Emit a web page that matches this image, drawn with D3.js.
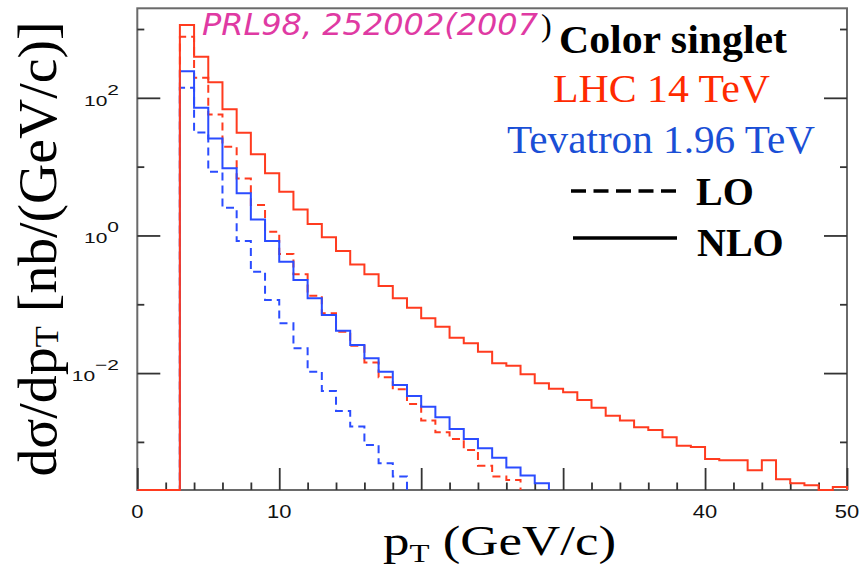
<!DOCTYPE html>
<html><head><meta charset="utf-8">
<script src="https://cdn.jsdelivr.net/npm/d3@7"></script>
<style>body{margin:0;background:#fff}</style>
</head><body>
<svg id="c" width="860" height="569"></svg>
<script>
// ---- data (bin i spans binEdges[i]..binEdges[i+1], pT in GeV/c; values in nb/(GeV/c)) ----
const binEdges = [0,1,2,3,4,5,6,7,8,9,10,11,12,13,14,15,16,17,18,19,20,21,22,23,24,25,26,27,28,29,30,31,32,33,34,35,36,37,38,39,40,41,42,43,44,45,46,47,48,49,50];
const lhcNLO = [0,0,0,1140,394,168,68.5,31,15.2,8.0,4.3,2.39,1.47,0.94,0.593,0.38,0.272,0.184,0.122,0.089,0.0625,0.0472,0.0327,0.0271,0.0205,0.0139,0.0128,0.0096,0.0071,0.0059,0.00526,0.00406,0.00314,0.0024,0.00204,0.00163,0.00149,0.00117,0.00088,0.00084,0.000565,0.00054,0.00054,0.000387,0.00054,0.000286,0.00025,0.000234,0,0.000221];
const lhcLO = [0,0,0,769,195,57.4,19.4,6.75,2.77,1.13,0.537,0.272,0.133,0.0738,0.0399,0.025,0.0142,0.0087,0.00582,0.00356,0.00204,0.00138,0.0011,0.000764,0.000452,0.000313,0.00028];
const tevNLO = [0,0,0,244,71.7,25.7,9.44,4.09,1.71,0.83,0.415,0.225,0.122,0.0698,0.0413,0.0256,0.0164,0.0105,0.00671,0.00465,0.00325,0.00228,0.00154,0.0011,0.00081,0.00059,0.000423,0.000324,0.00025];
const tevLO = [0,0,0,140,31.4,8.4,2.52,0.83,0.297,0.115,0.0528,0.0229,0.0105,0.0055,0.00281,0.00167,0.000904,0.00049,0.000313];
const xMajorTicks = [0,10,20,30,40,50];
const xMinorTicks = [2,4,6,8,12,14,16,18,22,24,26,28,32,34,36,38,42,44,46,48];
const xTickLabels = [0,10,40,50];
const yMajorTicks = [1e2,1e0,1e-2];
const yMinorTicks = [1e3,1e1,1e-1,1e-3];
const yTickExponents = ["2","0","\u22122"];
const legendLines = ["Color singlet","LHC 14 TeV","Tevatron 1.96 TeV","LO","NLO"];

// ---- layout ----
const svg = d3.select("#c");
const L = 137.3, R = 847, T = 8.3, B = 490;
const x = d3.scaleLinear().domain([0,50]).range([L,R]);
const y = d3.scaleLog().domain([2e-4,2e3]).range([B,T]).clamp(true);
const RED = "#ff3b1f", BLUE = "#2b4cff";

// frame
svg.append("rect").attr("x",L).attr("y",T).attr("width",R-L).attr("height",B-T)
  .attr("fill","none").attr("stroke","#6a6a6a").attr("stroke-width",2);

function styleAxis(g){
  g.select(".domain").remove();
  g.selectAll(".tick line").attr("stroke","#333").attr("stroke-width",1.8);
  g.selectAll(".tick text").remove();
}
svg.append("g").attr("transform",`translate(0,${B})`).call(d3.axisBottom(x).tickValues(xMajorTicks).tickSize(-22)).call(styleAxis);
svg.append("g").attr("transform",`translate(0,${B})`).call(d3.axisBottom(x).tickValues(xMinorTicks).tickSize(-7.5)).call(styleAxis);
svg.append("g").attr("transform",`translate(${L},0)`).call(d3.axisLeft(y).tickValues(yMajorTicks).tickSize(-23)).call(styleAxis);
svg.append("g").attr("transform",`translate(${L},0)`).call(d3.axisLeft(y).tickValues(yMinorTicks).tickSize(-7)).call(styleAxis);
svg.append("g").attr("transform",`translate(${R},0)`).call(d3.axisRight(y).tickValues(yMajorTicks).tickSize(-23)).call(styleAxis);
svg.append("g").attr("transform",`translate(${R},0)`).call(d3.axisRight(y).tickValues(yMinorTicks).tickSize(-7)).call(styleAxis);

// x tick labels
xTickLabels.forEach(v=>{
  svg.append("g").attr("transform",`translate(${x(v)},518) scale(1.22,1)`)
    .append("text").attr("text-anchor","middle")
    .attr("font-family","Liberation Sans, Arial, sans-serif").attr("font-size",18).attr("fill","#111").text(v);
});
// y tick labels
yMajorTicks.forEach((v,i)=>{
  const t = svg.append("g").attr("transform",`translate(119,${y(v)+8}) scale(1.4,1)`)
    .append("text").attr("text-anchor","end")
    .attr("font-family","Liberation Sans, Arial, sans-serif").attr("font-size",15).attr("fill","#111");
  t.append("tspan").text("10");
  t.append("tspan").attr("dy",-11).text(yTickExponents[i]);
});

// histograms
const line = d3.line().curve(d3.curveStepAfter)
  .x(d=>x(d[0])).y(d=>y(Math.max(d[1],2e-4)));
function hist(vals,color,dash){
  const pts = vals.map((v,i)=>[binEdges[i],v]);
  pts.push([binEdges[vals.length],0]);
  svg.append("path").attr("d",line(pts)).attr("fill","none")
    .attr("stroke",color).attr("stroke-width",2)
    .attr("stroke-dasharray",dash?"8,5":null);
}
hist(tevLO,BLUE,true);
hist(lhcLO,RED,true);
hist(tevNLO,BLUE,false);
hist(lhcNLO,RED,false);

// annotation
svg.append("text").attr("x",202).attr("y",35)
  .attr("font-family","DejaVu Sans, sans-serif").attr("font-style","italic").attr("font-size",30)
  .attr("fill","#df3aa3").attr("textLength",336).attr("lengthAdjust","spacingAndGlyphs")
  .text("PRL98, 252002(2007");
svg.append("text").attr("x",541).attr("y",36)
  .attr("font-family","Liberation Serif, serif").attr("font-size",32).attr("fill","#000").text(")");

// legend
const serif = "Liberation Serif, Times New Roman, serif";
svg.append("text").attr("x",559).attr("y",53).attr("font-family",serif).attr("font-weight","bold")
  .attr("font-size",40).attr("fill","#000").attr("textLength",228).attr("lengthAdjust","spacingAndGlyphs").text(legendLines[0]);
svg.append("text").attr("x",553).attr("y",102).attr("font-family",serif)
  .attr("font-size",40).attr("fill","#ff2a00").attr("textLength",217).attr("lengthAdjust","spacingAndGlyphs").text(legendLines[1]);
svg.append("text").attr("x",507).attr("y",153).attr("font-family",serif)
  .attr("font-size",40).attr("fill","#1a4fd6").attr("textLength",308).attr("lengthAdjust","spacingAndGlyphs").text(legendLines[2]);
svg.append("line").attr("x1",571).attr("x2",676).attr("y1",191).attr("y2",191)
  .attr("stroke","#000").attr("stroke-width",3.5).attr("stroke-dasharray","15,7.5");
svg.append("text").attr("x",696).attr("y",205).attr("font-family",serif).attr("font-weight","bold")
  .attr("font-size",40).attr("fill","#000").text(legendLines[3]);
svg.append("line").attr("x1",573).attr("x2",677).attr("y1",238).attr("y2",238)
  .attr("stroke","#000").attr("stroke-width",3.5);
svg.append("text").attr("x",697).attr("y",256).attr("font-family",serif).attr("font-weight","bold")
  .attr("font-size",40).attr("fill","#000").text(legendLines[4]);

// axis titles
const xl = svg.append("g").attr("transform","translate(383,555) scale(1.26,1)")
  .append("text").attr("font-family",serif).attr("font-size",42).attr("fill","#000");
xl.append("tspan").text("p");
xl.append("tspan").attr("font-size",26).attr("dy",7).text("T");
xl.append("tspan").attr("dy",-7).text(" (GeV/c)");

const yl = svg.append("text").attr("transform","translate(56,249) rotate(-90)")
  .attr("text-anchor","middle").attr("font-family",serif).attr("font-size",54).attr("fill","#000")
  .attr("textLength",455).attr("lengthAdjust","spacingAndGlyphs");
yl.append("tspan").text("d\u03c3/dp");
yl.append("tspan").attr("font-size",34).attr("dy",2).text("T");
yl.append("tspan").attr("dy",-2).text(" [nb/(GeV/c)]");
</script>
</body></html>
